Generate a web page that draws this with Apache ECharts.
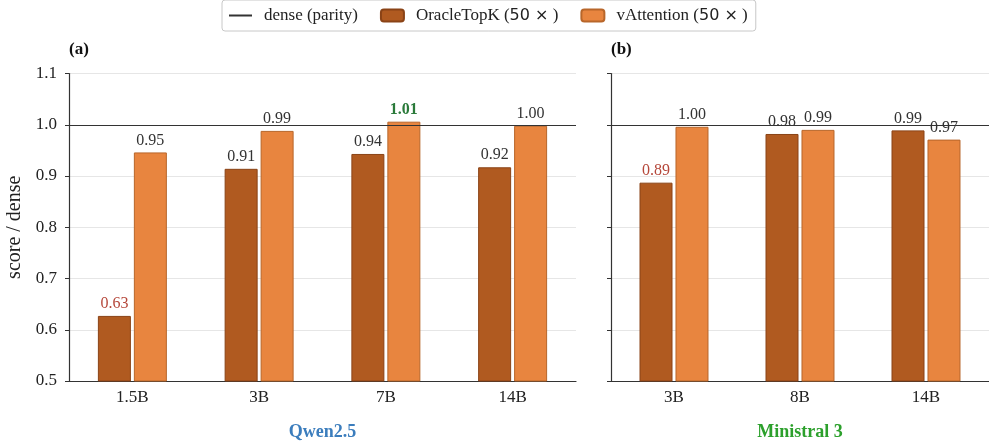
<!DOCTYPE html>
<html><head><meta charset="utf-8">
<script src="https://cdn.jsdelivr.net/npm/echarts@6/dist/echarts.min.js"></script>
<style>html,body{margin:0;padding:0;background:#fff}#c{width:989px;height:444px}</style>
</head><body><div id="c"></div>
<script>
const qwenCats = ['1.5B', '3B', '7B', '14B'];
const qwenOracle = [0.627, 0.914, 0.943, 0.917];
const qwenVatt = [0.946, 0.988, 1.006, 0.998];
const minCats = ['3B', '8B', '14B'];
const minOracle = [0.887, 0.982, 0.989];
const minVatt = [0.996, 0.990, 0.971];
const yTicks = [0.5, 0.6, 0.7, 0.8, 0.9, 1.0, 1.1];
const parity = 1.0;

const SERIF = '"Liberation Serif", "DejaVu Serif", serif';
const C_OR = '#b05a20', C_OR_E = '#8a4316';
const C_VA = '#e8853f', C_VA_E = '#b8662a';

function mk(vals) {
  return vals.map(v => {
    const lab = {};
    if (v < 0.9) lab.color = '#b5473a';
    if (v > 1.0) { lab.color = '#2a7a3a'; lab.fontWeight = 'bold'; }
    return { value: v, label: lab };
  });
}
const labelCfg = { show: true, position: 'top', distance: 4, fontFamily: SERIF, fontSize: 16, color: '#333',
  formatter: p => p.value.toFixed(2) };

function yAxisCfg(idx, showLabels) {
  return {
    type: 'value', gridIndex: idx, min: yTicks[0], max: yTicks[yTicks.length - 1], interval: 0.1,
    axisLine: { show: true, lineStyle: { color: '#333', width: 1.2 } },
    axisTick: { show: true, length: 4, lineStyle: { color: '#333' } },
    axisLabel: { show: showLabels, fontFamily: SERIF, fontSize: 17, color: '#222', margin: 12,
      formatter: v => v.toFixed(1) },
    splitLine: { show: true, lineStyle: { color: '#e6e6e6', width: 1 } },
    name: showLabels ? 'score / dense' : '', nameLocation: 'middle', nameGap: 40,
    nameTextStyle: { fontFamily: SERIF, fontSize: 20, color: '#222' }
  };
}
function xAxisCfg(idx, cats, name, color) {
  return {
    type: 'category', gridIndex: idx, data: cats,
    axisLine: { show: true, lineStyle: { color: '#333', width: 1.2 } },
    axisTick: { show: false },
    axisLabel: { fontFamily: SERIF, fontSize: 17, color: '#222', margin: 8 },
    name: name, nameLocation: 'middle', nameGap: 42,
    nameTextStyle: { fontFamily: SERIF, fontSize: 18, fontWeight: 'bold', color: color }
  };
}
const markParity = { silent: true, symbol: 'none', label: { show: false },
  lineStyle: { color: '#333', width: 1.2, type: 'solid' }, data: [{ yAxis: parity }] };

function bar(name, idx, vals, color, edge, withMark) {
  const s = { type: 'bar', name: name, xAxisIndex: idx, yAxisIndex: idx, data: mk(vals),
    barWidth: 33, barGap: '9%',
    itemStyle: { color: color, borderColor: edge, borderWidth: 1 },
    label: labelCfg };
  if (withMark) s.markLine = markParity;
  return s;
}

const chart = echarts.init(document.getElementById('c'), null, { renderer: 'canvas' });
chart.setOption({
  animation: false,
  title: [
    { text: '(a)', left: 64, top: 36, textStyle: { fontFamily: SERIF, fontSize: 17, fontWeight: 'bold', color: '#111' } },
    { text: '(b)', left: 606, top: 36, textStyle: { fontFamily: SERIF, fontSize: 17, fontWeight: 'bold', color: '#111' } }
  ],
  legend: {
    left: 222, top: 0, padding: [7, 8, 7, 6], itemGap: 22, itemWidth: 23, itemHeight: 12,
    borderColor: '#c8c8c8', borderWidth: 1, borderRadius: 3,
    data: [{ name: 'dense (parity)', itemStyle: { opacity: 0 } }, 'OracleTopK', 'vAttention'],
    formatter: n => n === 'dense (parity)' ? n : n + ' ({m|50 ×} )',
    textStyle: { fontFamily: SERIF, fontSize: 17, color: '#222', padding: [0, 0, 0, 7],
      rich: { m: { fontFamily: '"DejaVu Sans", sans-serif', fontSize: 16, color: '#222' } } }
  },
  grid: [
    { left: 69, top: 73.5, width: 507, height: 307.5, outerBoundsMode: 'none', containLabel: false },
    { left: 611, top: 73.5, width: 378, height: 307.5, outerBoundsMode: 'none', containLabel: false }
  ],
  xAxis: [xAxisCfg(0, qwenCats, 'Qwen2.5', '#3b7dbd'), xAxisCfg(1, minCats, 'Ministral 3', '#2ca02c')],
  yAxis: [yAxisCfg(0, true), yAxisCfg(1, false)],
  series: [
    { type: 'line', name: 'dense (parity)', xAxisIndex: 0, yAxisIndex: 0, data: [], symbol: 'none',
      lineStyle: { color: '#333', width: 1.5 }, itemStyle: { color: '#333' } },
    bar('OracleTopK', 0, qwenOracle, C_OR, C_OR_E, true),
    bar('vAttention', 0, qwenVatt, C_VA, C_VA_E, false),
    bar('OracleTopK', 1, minOracle, C_OR, C_OR_E, true),
    bar('vAttention', 1, minVatt, C_VA, C_VA_E, false)
  ]
});
</script></body></html>
